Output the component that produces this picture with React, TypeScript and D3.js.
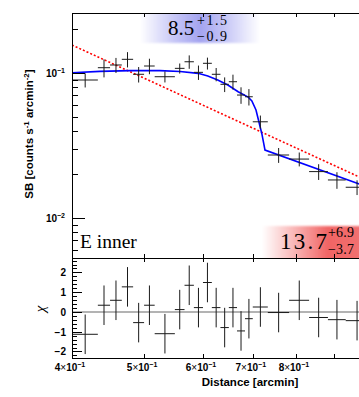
import React from 'react';
import * as d3 from 'd3';

// radial bins (arcsec), plotted in arcmin
const binEdgesArcsec = [24, 26, 27, 28, 29, 30, 31, 33, 34, 35, 36, 37, 38, 39, 40, 41, 42, 44, 47, 50, 53, 56, 60];

// surface brightness [counts s^-1 arcmin^-2] and 1-sigma errors
const sbValues = [0.0895, 0.1088, 0.1136, 0.1243, 0.098, 0.1118, 0.0943, 0.1077, 0.1196, 0.1011, 0.1167,
  0.098, 0.0836, 0.0871, 0.0705, 0.0686, 0.0461, 0.0272, 0.0255, 0.0209, 0.0183, 0.0163];
const sbErrors = [0.01, 0.0155, 0.0135, 0.015, 0.012, 0.0137, 0.0082, 0.0086, 0.0127, 0.0115, 0.011,
  0.0103, 0.0097, 0.0103, 0.0092, 0.0089, 0.0048, 0.0032, 0.0028, 0.0026, 0.0024, 0.0019];

// residuals
const chiValues = [-1.13, 0.34, 0.59, 1.27, -0.54, 0.34, -1.1, 0.12, 1.35, 0.22, 1.49,
  0.22, -0.79, 0.22, -0.96, -0.34, 0.25, -0.03, 0.59, -0.28, -0.39, -0.44];

// best fit model (blue)
const modelRadius = [0.4, 0.436, 0.479, 0.525, 0.559, 0.591, 0.609, 0.628, 0.648, 0.669, 0.69,
  0.698, 0.707, 0.7135, 0.72, 0.727, 0.969, 1.0];
const modelSB = [0.1005, 0.1027, 0.1039, 0.1039, 0.1024, 0.0995, 0.0954, 0.0895, 0.0827, 0.0743, 0.0683,
  0.0641, 0.0556, 0.0459, 0.038, 0.0294, 0.0173, 0.0163];

// single power law (red dashed)
const powerRadius = [0.4, 1.0];
const powerSB = [0.156, 0.018];

const xTickValues = [0.4, 0.5, 0.6, 0.7, 0.8, 0.9];
const xTickLabels = ['4', '5', '6', '7', '8'];
const yMajorTicks = [0.1, 0.01];
const yMinorTicks = [0.2, 0.09, 0.08, 0.07, 0.06, 0.05, 0.04, 0.03, 0.02, 0.009, 0.008, 0.007, 0.006];
const chiMajorTicks = [-2, -1, 0, 1, 2];

const W = 359;
const H = 397;
const left = 72;
const right = 368;
const top = 13;
const mid = 258;
const bottom = 358;

const sans = '"Liberation Sans", Arial, Helvetica, sans-serif';
const serif = '"Liberation Serif", "Times New Roman", serif';

export default function App() {
  const x = d3.scaleLog().domain([0.4, 1.0]).range([left, right]);
  const yTop = d3.scaleLog().domain([0.0053, 0.2594]).range([mid, top]);
  const yChi = d3.scaleLinear().domain([-2.33, 2.73]).range([bottom, mid]);

  const edges = binEdgesArcsec.map(d => d / 60);
  const bins = sbValues.map((v, i) => {
    const lo = edges[i];
    const hi = edges[i + 1];
    return { lo, hi, c: (lo + hi) / 2, v, e: sbErrors[i], chi: chiValues[i] };
  });

  const line = d3.line<[number, number]>()
    .x(d => x(d[0]))
    .y(d => yTop(d[1]));

  const modelPath = line(modelRadius.map((r, i) => [r, modelSB[i]]) as [number, number][]) || '';
  const powerPath = line(powerRadius.map((r, i) => [r, powerSB[i]]) as [number, number][]) || '';

  const chiMinor = d3.range(-2.2, 2.7, 0.2).map(d => Math.round(d * 10) / 10);

  return (
    <svg width={W} height={H} style={{ position: 'absolute', left: 0, top: 0, background: '#fff' }}>
      <defs>
        <clipPath id="clipTop">
          <rect x={left} y={top} width={right - left} height={mid - top} />
        </clipPath>
        <clipPath id="clipBot">
          <rect x={left} y={mid} width={right - left} height={bottom - mid} />
        </clipPath>
        <linearGradient id="blueGrad" x1="0" x2="1" y1="0" y2="0">
          <stop offset="0" stopColor="#ffffff" />
          <stop offset="0.3" stopColor="#c4c4f6" />
          <stop offset="0.5" stopColor="#a4a4f0" />
          <stop offset="0.7" stopColor="#c4c4f6" />
          <stop offset="1" stopColor="#ffffff" />
        </linearGradient>
        <linearGradient id="redGrad" x1="0" x2="1" y1="0" y2="0">
          <stop offset="0" stopColor="#ffffff" />
          <stop offset="0.3" stopColor="#f9b4b4" />
          <stop offset="0.6" stopColor="#f16464" />
          <stop offset="1" stopColor="#f27474" />
        </linearGradient>
        <filter id="soft" x="-10%" y="-20%" width="120%" height="140%">
          <feGaussianBlur stdDeviation="1.2" />
        </filter>
      </defs>

      {/* label backgrounds */}
      <g clipPath="url(#clipTop)">
        <rect x={140} y={11} width={120} height={32} fill="url(#blueGrad)" filter="url(#soft)" />
        <rect x={262} y={226} width={110} height={36} fill="url(#redGrad)" filter="url(#soft)" />
      </g>

      {/* power law + model */}
      <g clipPath="url(#clipTop)">
        <path d={powerPath} fill="none" stroke="#ff0000" strokeWidth={1.6} strokeDasharray="2,2" />
        <path d={modelPath} fill="none" stroke="#0000ff" strokeWidth={1.6} />
        {bins.map((b, i) => (
          <g key={i} stroke="#1a1a1a" strokeWidth={1}>
            <line x1={x(b.lo)} x2={x(b.hi)} y1={yTop(b.v)} y2={yTop(b.v)} />
            <line x1={x(b.c)} x2={x(b.c)} y1={yTop(b.v + b.e)} y2={yTop(b.v - b.e)} />
          </g>
        ))}
      </g>

      {/* residuals */}
      <g clipPath="url(#clipBot)">
        <line x1={left} x2={right} y1={yChi(0)} y2={yChi(0)} stroke="#9a9a9a" strokeWidth={1.5} />
        {bins.map((b, i) => (
          <g key={i} stroke="#1a1a1a" strokeWidth={1}>
            <line x1={x(b.lo)} x2={x(b.hi)} y1={yChi(b.chi)} y2={yChi(b.chi)} />
            <line x1={x(b.c)} x2={x(b.c)} y1={yChi(b.chi + 1)} y2={yChi(b.chi - 1)} />
          </g>
        ))}
      </g>

      {/* frames */}
      <g fill="none" stroke="#000" strokeWidth={1}>
        <rect x={left + 0.5} y={top + 0.5} width={right - left} height={mid - top} />
        <rect x={left + 0.5} y={mid + 0.5} width={right - left} height={bottom - mid} />
      </g>

      {/* ticks */}
      <g stroke="#000" strokeWidth={1}>
        {yMajorTicks.map(t => (
          <line key={'M' + t} x1={left} x2={left + 13} y1={Math.round(yTop(t)) + 0.5} y2={Math.round(yTop(t)) + 0.5} />
        ))}
        {yMinorTicks.map(t => (
          <line key={'m' + t} x1={left} x2={left + 6} y1={Math.round(yTop(t)) + 0.5} y2={Math.round(yTop(t)) + 0.5} />
        ))}
        {chiMinor.map(t => (
          <line key={'c' + t} x1={left} x2={left + (chiMajorTicks.includes(t) ? 10 : 5)}
            y1={Math.round(yChi(t)) + 0.5} y2={Math.round(yChi(t)) + 0.5} />
        ))}
        {xTickValues.slice(1).map(t => (
          <g key={'x' + t}>
            <line x1={Math.round(x(t)) + 0.5} x2={Math.round(x(t)) + 0.5} y1={top} y2={top + 4} />
            <line x1={Math.round(x(t)) + 0.5} x2={Math.round(x(t)) + 0.5} y1={mid - 4} y2={mid + 4} />
            <line x1={Math.round(x(t)) + 0.5} x2={Math.round(x(t)) + 0.5} y1={bottom - 4} y2={bottom} />
          </g>
        ))}
      </g>

      {/* y tick labels */}
      <g fontFamily={sans} fontWeight="bold" fontSize={10} fill="#000" textAnchor="end">
        {yMajorTicks.map(t => (
          <text key={t} x={65} y={yTop(t) + 4}>
            10<tspan fontSize={7} dy={-4}>{t === 0.1 ? '\u22121' : '\u22122'}</tspan>
          </text>
        ))}
        {chiMajorTicks.map(t => (
          <text key={t} x={66} y={yChi(t) + 4}>{t < 0 ? '\u2212' + Math.abs(t) : String(t)}</text>
        ))}
      </g>

      {/* x tick labels */}
      <g fontFamily={sans} fontWeight="bold" fontSize={10} fill="#000" textAnchor="middle">
        {xTickLabels.map((l, i) => (
          <text key={l} x={x(xTickValues[i]) - 2} y={371}>
            {l}
            <tspan fontWeight="normal">{'\u00d7'}</tspan>10<tspan fontSize={7} dy={-4}>{'\u22121'}</tspan>
          </text>
        ))}
      </g>

      {/* axis titles */}
      <text x={250} y={386} fontFamily={sans} fontWeight="bold" fontSize={11.5} textAnchor="middle">
        Distance [arcmin]
      </text>
      <text transform="translate(33,134) rotate(-90)" fontFamily={sans} fontWeight="bold" fontSize={11.5}
        textAnchor="middle">
        SB [counts s<tspan fontSize={8} dy={-4}>-1</tspan><tspan dy={4}> arcmin</tspan>
        <tspan fontSize={8} dy={-4}>-2</tspan><tspan dy={4}>]</tspan>
      </text>
      <text transform="translate(45,309) rotate(-90)" fontFamily={serif} fontStyle="italic" fontSize={15}
        textAnchor="middle">
        {'\u03c7'}
      </text>

      {/* annotations */}
      <g fontFamily={serif} fill="#000">
        <text x={168} y={35} fontSize={21}>8.5</text>
        <text x={197} y={25} fontSize={14} textLength={30} lengthAdjust="spacing">+1.5</text>
        <text x={197} y={41} fontSize={14} textLength={30} lengthAdjust="spacing">{'\u22120.9'}</text>

        <text x={80} y={248} fontSize={19.5}>E inner</text>

        <text x={280} y={249} fontSize={23} textLength={47} lengthAdjust="spacing">13.7</text>
        <text x={328} y={237} fontSize={14} textLength={26} lengthAdjust="spacing">+6.9</text>
        <text x={328} y={254} fontSize={14} textLength={26} lengthAdjust="spacing">{'\u22123.7'}</text>
      </g>
    </svg>
  );
}
